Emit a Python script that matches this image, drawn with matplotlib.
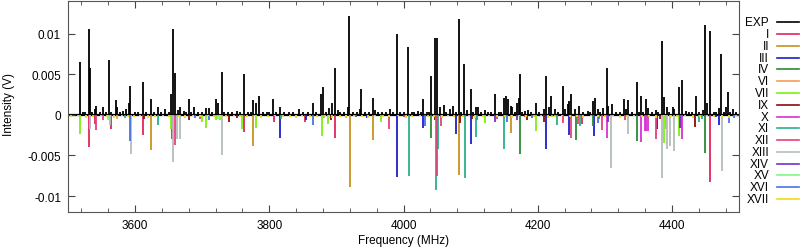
import matplotlib
matplotlib.use("Agg")
import matplotlib.pyplot as plt
from matplotlib.lines import Line2D
from matplotlib.ticker import MultipleLocator, FuncFormatter

plt.rcParams['font.family'] = ['Liberation Sans', 'DejaVu Sans']
plt.rcParams['font.size'] = 8.5

# experimental spectrum (MHz, V)
exp_freq = [3518.6, 3522, 3525, 3531, 3533, 3536, 3540, 3542.3, 3548, 3551.8, 3556, 3561.2, 3564,
            3571, 3573.5, 3578, 3582.5, 3586, 3591.4, 3592.9, 3600, 3605, 3611.7, 3616, 3623.6, 3628,
            3633.5, 3638, 3644.9, 3650, 3653.3, 3657.2, 3659.2, 3663.7, 3667.6, 3672.5, 3676, 3680,
            3684, 3688.4, 3694, 3700, 3706.2, 3710.7, 3715, 3721.1, 3723, 3729.5, 3733, 3738, 3745,
            3752.3, 3757, 3762.2, 3768, 3772, 3776, 3780.5, 3784, 3790, 3796, 3800, 3805.8, 3810,
            3816.2, 3822, 3830, 3836, 3843.9, 3850, 3857, 3865.2, 3870, 3877, 3879.5, 3884, 3888.5,
            3892.9, 3897.4, 3901.8, 3906, 3912, 3917.2, 3919.2, 3924, 3930, 3934.5, 3936, 3942, 3948,
            3954.3, 3956.8, 3962, 3968, 3974, 3980, 3984, 3989.9, 3995, 4000, 4007.3, 4012, 4016,
            4021.7, 4026, 4029.6, 4035, 4038, 4041.5, 4047.4, 4049.4, 4054.8, 4060.8, 4064, 4068.7,
            4073.7, 4078, 4082.1, 4086, 4090.5, 4095, 4100.9, 4104, 4108.3, 4111.3, 4116, 4121.2,
            4126, 4131, 4137, 4142, 4146, 4149.4, 4152.9, 4155.9, 4160.3, 4162.3, 4166, 4169.7,
            4171.7, 4173.7, 4177, 4180.6, 4185.6, 4190, 4197.4, 4202, 4208.8, 4212.8, 4217.3, 4219.7,
            4225.2, 4230, 4237, 4240, 4245, 4247, 4250, 4255.9, 4261.8, 4268, 4274.7, 4278, 4282.6,
            4285.6, 4289.6, 4293, 4297, 4303, 4305.4, 4310.8, 4316, 4322, 4328.7, 4332.2, 4334.6,
            4340, 4348, 4351, 4354.4, 4357, 4360.9, 4364.3, 4370, 4376.7, 4380, 4385.1, 4388.1,
            4392.6, 4396, 4401.5, 4403.5, 4409.9, 4415.4, 4421.3, 4426, 4430, 4435.2, 4440, 4446.1,
            4449.5, 4452, 4456.4, 4462, 4466, 4469.8, 4473.8, 4477, 4480.7, 4484.2, 4487, 4490.6, 4495]
exp_int = [0.0065, 0.0003, 0.0004, 0.0106, 0.0058, 0.0004, 0.0007, 0.0011, 0.0003, 0.0009, 0.0003,
           0.0068, 0.0004, 0.0018, 0.0010, 0.0003, 0.0005, 0.0007, 0.0014, 0.0035, 0.0003, 0.0004,
           0.0040, 0.0003, 0.0019, 0.0003, 0.0009, 0.0004, 0.0007, 0.0004, 0.0025, 0.0106, 0.0052,
           0.0006, 0.0009, 0.0005, 0.0003, 0.0020, 0.0003, 0.0010, 0.0003, 0.0004, 0.0008, 0.0008,
           0.0003, 0.0019, 0.0014, 0.0053, 0.0004, 0.0003, 0.0003, 0.0005, 0.0003, 0.0050, 0.0003,
           0.0004, 0.0018, 0.0014, 0.0023, 0.0003, 0.0004, 0.0003, 0.0020, 0.0003, 0.0009, 0.0003,
           0.0004, 0.0003, 0.0007, 0.0003, 0.0003, 0.0014, 0.0003, 0.0025, 0.0034, 0.0004, 0.0008,
           0.0014, 0.0058, 0.0006, 0.0003, 0.0004, 0.0009, 0.0122, 0.0004, 0.0004, 0.0007, 0.0032,
           0.0004, 0.0003, 0.0021, 0.0006, 0.0003, 0.0004, 0.0003, 0.0007, 0.0004, 0.0099, 0.0003,
           0.0004, 0.0084, 0.0003, 0.0003, 0.0005, 0.0004, 0.0019, 0.0003, 0.0004, 0.0048, 0.0095,
           0.0095, 0.0009, 0.0012, 0.0004, 0.0007, 0.0011, 0.0004, 0.0118, 0.0003, 0.0062, 0.0006,
           0.0032, 0.0003, 0.0010, 0.0010, 0.0003, 0.0006, 0.0003, 0.0004, 0.0025, 0.0003, 0.0004,
           0.0021, 0.0023, 0.0019, 0.0011, 0.0010, 0.0004, 0.0015, 0.0021, 0.0050, 0.0003, 0.0005,
           0.0006, 0.0003, 0.0014, 0.0003, 0.0007, 0.0048, 0.0009, 0.0023, 0.0007, 0.0003, 0.0035,
           0.0007, 0.0013, 0.0017, 0.0025, 0.0007, 0.0011, 0.0003, 0.0005, 0.0003, 0.0017, 0.0021,
           0.0007, 0.0003, 0.0008, 0.0057, 0.0011, 0.0013, 0.0003, 0.0004, 0.0019, 0.0007, 0.0018,
           0.0003, 0.0040, 0.0004, 0.0023, 0.0004, 0.0020, 0.0008, 0.0003, 0.0006, 0.0003, 0.0091,
           0.0022, 0.0009, 0.0003, 0.0009, 0.0007, 0.0034, 0.0043, 0.0005, 0.0003, 0.0003, 0.0023,
           0.0003, 0.0006, 0.0111, 0.0014, 0.0103, 0.0003, 0.0004, 0.0008, 0.0075, 0.0004, 0.0010,
           0.0028, 0.0004, 0.0007, 0.0003]

# predicted spectra (drawn downwards)
I_freq = [3531, 3540, 3564.6, 3611.7, 3655.3, 3762.2, 3806.7, 3852.8, 3897.9, 4000, 4180.6, 4265.3, 4413.9, 4456.4]
I_int = [-0.0040, -0.0011, -0.0017, -0.0025, -0.0030, -0.0021, -0.0009, -0.0009, -0.0029, -0.0003, -0.0003, -0.0011, -0.0016, -0.0083]
II_freq = [3623.6, 3776, 3919.7, 3954.8, 4082.1, 4159.8]
II_int = [-0.0043, -0.0038, -0.0089, -0.0031, -0.0074, -0.0023]
III_freq = [3816.2, 3855.3, 3944.9, 3990, 4029.6, 4077.6, 4100.9, 4212.8, 4247, 4284.1, 4377.7, 4466, 4470.8]
III_int = [-0.0029, -0.0006, -0.0004, -0.0076, -0.0016, -0.0024, -0.0036, -0.0042, -0.0025, -0.0026, -0.0018, -0.0003, -0.0013]
IV_freq = [3929.6, 4041.5, 4174.2, 4257.4, 4282.6, 4348, 4449.5]
IV_int = [-0.0003, -0.0029, -0.0048, -0.0031, -0.0014, -0.0032, -0.0047]
VI_freq = [3573, 3882, 3914.7, 4390.6]
VI_int = [-0.0005, -0.0004, -0.0004, -0.0017]
VII_freq = [3518.5, 3653.3, 3699, 3705.7, 3721, 3726.5, 3758.7, 3780.5, 3878, 3887, 3966.7, 4122.2, 4197.4, 4221.2, 4387.6, 4409.9]
VII_int = [-0.0024, -0.0017, -0.0009, -0.0016, -0.0006, -0.0006, -0.0017, -0.0016, -0.0026, -0.0011, -0.0009, -0.0010, -0.0020, -0.0003, -0.0035, -0.0026]
IX_freq = [3613.2, 3680, 3739.4, 3752.3, 3892.4, 4046.4, 4083.6, 4102.4, 4184.6, 4209.3, 4382, 4434.7]
IX_int = [-0.0005, -0.0007, -0.0009, -0.0004, -0.0006, -0.0006, -0.0010, -0.0005, -0.0007, -0.0009, -0.0005, -0.0015]
X_freq = [3532.5, 4109.3, 4139, 4303, 4354.4, 4359.4, 4361.9, 4364.8, 4415.4]
X_int = [-0.0015, -0.0007, -0.0005, -0.0029, -0.0034, -0.0020, -0.0020, -0.0020, -0.0030]
XI_freq = [3584.4, 3634.5, 3817.6, 4007.8, 4047.9, 4050.9, 4091, 4108.3, 4149.4, 4229.1, 4262.3, 4441.1, 4444.6]
XI_int = [-0.0004, -0.0013, -0.0005, -0.0075, -0.0093, -0.0042, -0.0078, -0.0027, -0.0042, -0.0012, -0.0014, -0.0009, -0.0005]
XII_freq = [3542.3, 3551.8, 3659.2, 3696.3, 3978, 4049.9, 4055.8, 4238, 4250, 4259.8, 4296, 4330, 4376.7]
XII_int = [-0.0019, -0.0007, -0.0037, -0.0005, -0.0017, -0.0075, -0.0014, -0.0010, -0.0028, -0.0011, -0.0019, -0.0006, -0.0030]
XIII_freq = [3533.5, 3562, 3593.4, 3657.2, 3662, 3667.6, 3730, 4309.9, 4334.6, 4385.1, 4393.1, 4396.5, 4402.5, 4474.3]
XIII_int = [-0.0018, -0.0013, -0.0048, -0.0058, -0.0030, -0.0030, -0.0050, -0.0066, -0.0024, -0.0078, -0.0042, -0.0038, -0.0044, -0.0069]
XIV_freq = [4137, 4169.2, 4305, 4411.4]
XIV_int = [-0.0009, -0.0007, -0.0009, -0.0016]
XV_freq = [3560.2, 3724, 3889]
XV_int = [-0.0006, -0.0005, -0.0004]
XVI_freq = [3592.4, 3688.9, 3710, 3865.2, 4032, 4154.4, 4192, 4289.6, 4291, 4484.7, 4493]
XVI_int = [-0.0032, -0.0004, -0.0007, -0.0013, -0.0014, -0.0009, -0.0004, -0.0010, -0.0005, -0.0010, -0.0004]
XVII_freq = [3505, 3515, 3527, 3538, 3549, 3558, 3569, 3580, 3589, 3598, 3608, 3619, 3630, 3641, 3650,
             3665, 3675, 3686, 3697, 3708, 3717, 3727, 3736, 3748, 3757, 3767, 3778, 3788, 3798, 3809,
             3820, 3831, 3840, 3849, 3860, 3871, 3883, 3894, 3905, 3914, 3926, 3938, 3947, 3958, 3969,
             3979, 3992, 4003, 4013, 4024, 4036, 4045, 4057, 4066, 4076, 4088, 4097, 4106, 4118, 4128,
             4140, 4151, 4162, 4172, 4183, 4194, 4205, 4215, 4226, 4236, 4248, 4258, 4268, 4279, 4290,
             4300, 4312, 4322, 4333, 4344, 4355, 4366, 4377, 4388, 4399, 4408, 4420, 4431, 4442, 4453,
             4463, 4474, 4485, 4496]
XVII_int = [-0.0003, -0.0002, -0.0004, -0.0003, -0.0002, -0.0003, -0.0004, -0.0002, -0.0003, -0.0003,
            -0.0002, -0.0004, -0.0003, -0.0002, -0.0003, -0.0003, -0.0004, -0.0002, -0.0003, -0.0002,
            -0.0003, -0.0004, -0.0003, -0.0002, -0.0003, -0.0003, -0.0002, -0.0004, -0.0003, -0.0002,
            -0.0003, -0.0003, -0.0004, -0.0002, -0.0003, -0.0003, -0.0002, -0.0004, -0.0003, -0.0003,
            -0.0002, -0.0003, -0.0004, -0.0002, -0.0003, -0.0003, -0.0002, -0.0004, -0.0003, -0.0002,
            -0.0003, -0.0003, -0.0004, -0.0002, -0.0003, -0.0003, -0.0002, -0.0004, -0.0003, -0.0002,
            -0.0003, -0.0003, -0.0004, -0.0002, -0.0003, -0.0003, -0.0002, -0.0004, -0.0003, -0.0002,
            -0.0003, -0.0003, -0.0004, -0.0002, -0.0003, -0.0003, -0.0002, -0.0004, -0.0003, -0.0002,
            -0.0003, -0.0003, -0.0004, -0.0002, -0.0003, -0.0003, -0.0002, -0.0004, -0.0003, -0.0002,
            -0.0003, -0.0003, -0.0004, -0.0002]

names = ['EXP', 'I', 'II', 'III', 'IV', 'VI', 'VII', 'IX', 'X', 'XI', 'XII', 'XIII', 'XIV', 'XV', 'XVI', 'XVII']
colors = ['#000000', '#e2245c', '#c8921e', '#1e1ec8', '#2a8a34', '#f0a050', '#7cf010', '#8b0a0a',
          '#d830d0', '#2ab08c', '#e6407a', '#b4bcbc', '#7232c6', '#80f880', '#4a72e0', '#f0dc10']
series = [(exp_freq, exp_int), (I_freq, I_int), (II_freq, II_int), (III_freq, III_int),
          (IV_freq, IV_int), (VI_freq, VI_int), (VII_freq, VII_int), (IX_freq, IX_int),
          (X_freq, X_int), (XI_freq, XI_int), (XII_freq, XII_int), (XIII_freq, XIII_int),
          (XIV_freq, XIV_int), (XV_freq, XV_int), (XVI_freq, XVI_int), (XVII_freq, XVII_int)]

fig = plt.figure(figsize=(8, 2.51), dpi=100)
ax = fig.add_axes([68 / 800, 37.7 / 251, 671 / 800, 211.3 / 251])

ax.axhline(0, color='black', lw=1.6, zorder=1)
for (f, v), c in zip(series, colors):
    ax.vlines(f, 0, v, colors=c, lw=1.3, zorder=2)

ax.set_xlim(3500, 4500)
ax.set_ylim(-0.012, 0.014)
ax.xaxis.set_major_locator(MultipleLocator(200))
ax.xaxis.set_minor_locator(MultipleLocator(40))
ax.yaxis.set_major_locator(MultipleLocator(0.005))
ax.yaxis.set_major_formatter(FuncFormatter(lambda v, p: '%g' % round(v, 4)))
ax.tick_params(which='both', direction='in', top=True, right=True, color='#444444', pad=5)
ax.tick_params(which='major', length=5)
ax.tick_params(which='minor', length=3)
for s in ax.spines.values():
    s.set_color('#555555')

fig.text(404 / 800, 10 / 251, 'Frequency (MHz)', ha='center', va='center')
fig.text(9 / 800, 1 - 105 / 251, 'Intensity (V)', rotation=90, ha='center', va='center')

# legend on the right
for i, (n, c) in enumerate(zip(names, colors)):
    y = 1 - (23.3 + i * 11.78) / 251
    fig.text(769 / 800, y, n, ha='right', va='center')
    fig.add_artist(Line2D([777 / 800, 799 / 800], [y, y], color=c, lw=1.2, transform=fig.transFigure))

fig.savefig('out.png', dpi=100)
